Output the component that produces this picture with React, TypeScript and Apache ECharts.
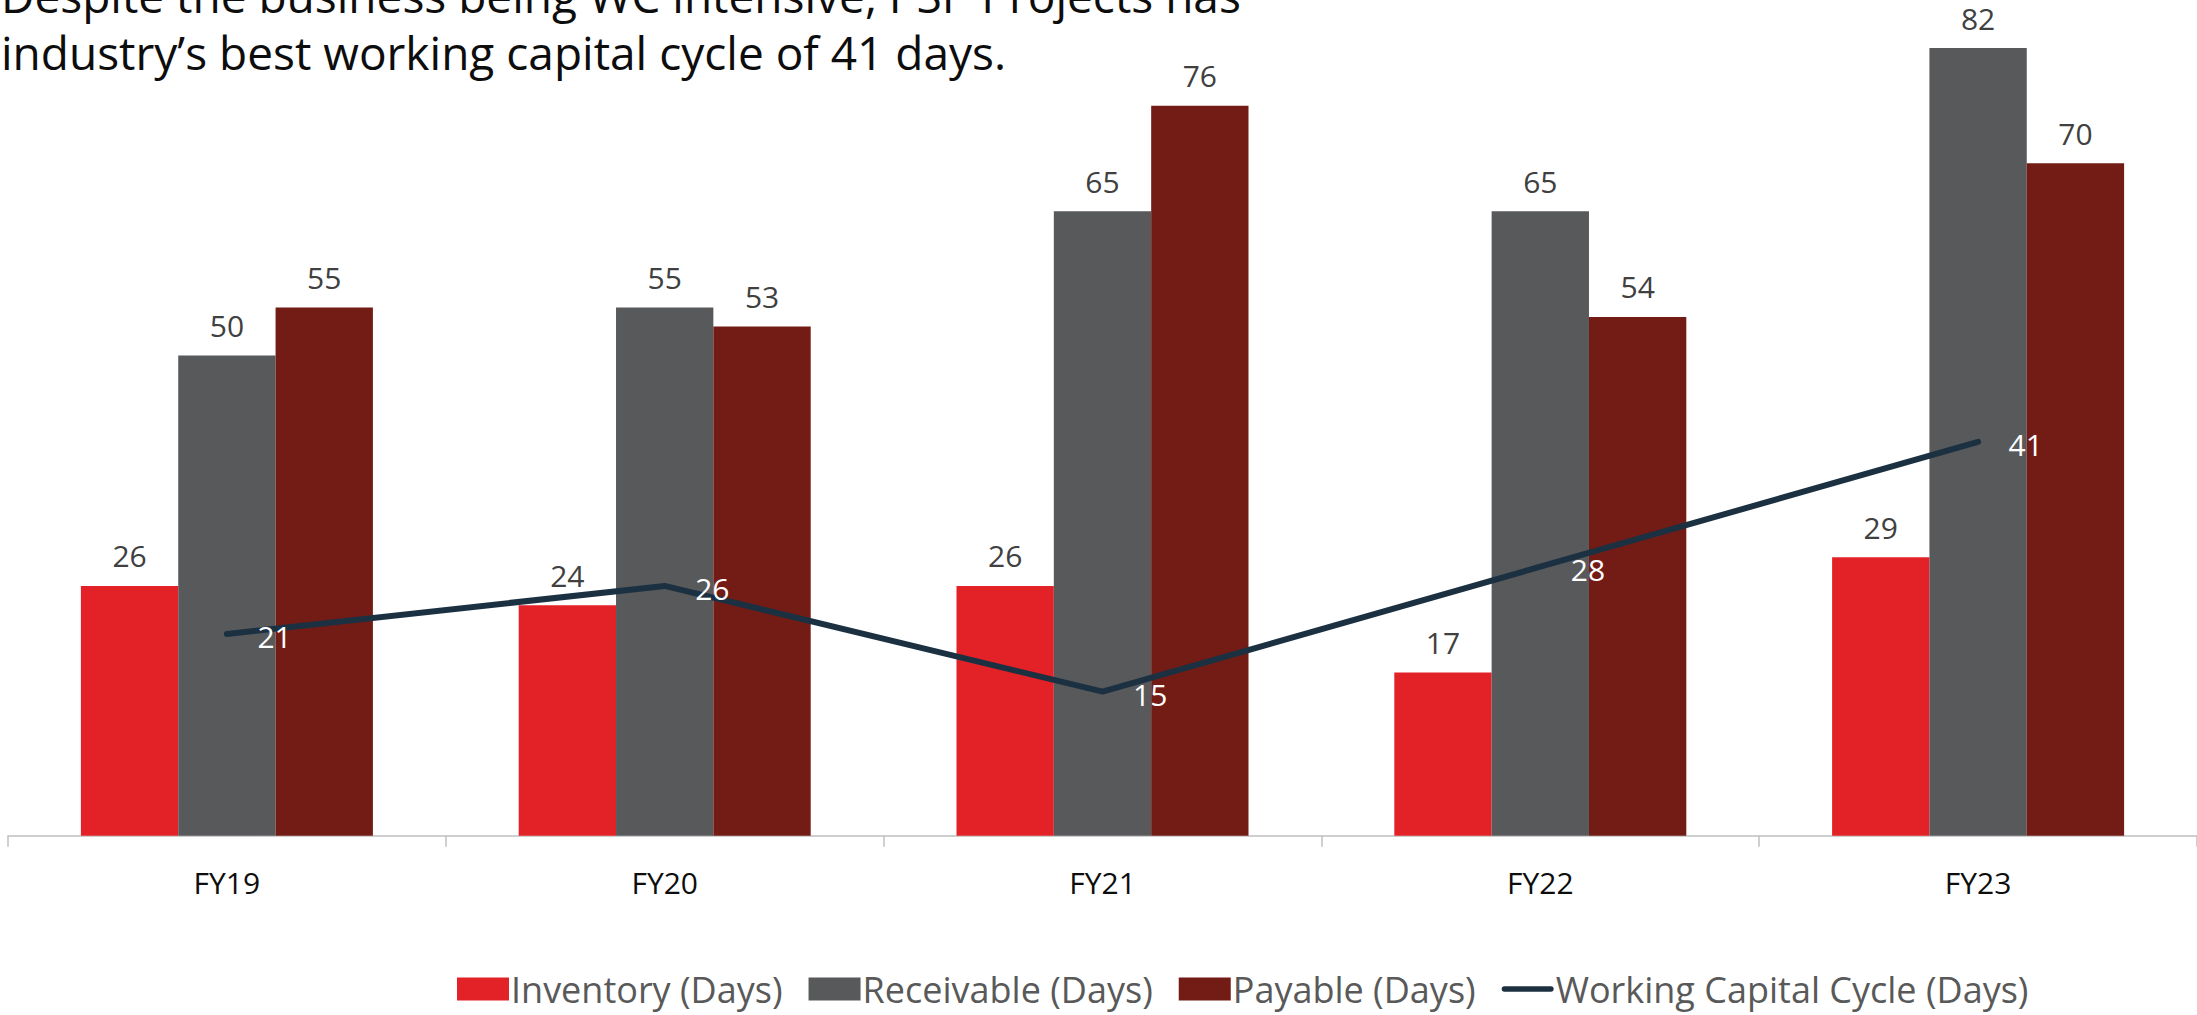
import React, { useEffect, useRef } from "react";
import * as echarts from "echarts";

const categories = ["FY19", "FY20", "FY21", "FY22", "FY23"];
const inventoryDays = [26, 24, 26, 17, 29];
const receivableDays = [50, 55, 65, 65, 82];
const payableDays = [55, 53, 76, 54, 70];
const wccDays = [21, 26, 15, 28, 41];
const seriesNames = [
  "Inventory (Days)",
  "Receivable (Days)",
  "Payable (Days)",
  "Working Capital Cycle (Days)",
];
const titleLines = [
  "Despite the business being WC intensive, PSP Projects has",
  "industry\u2019s best working capital cycle of 41 days.",
];

const FONT = '"Open Sans", "Noto Sans", sans-serif';
const COLORS = ["#E32228", "#58595B", "#731C15", "#1B3142"];

export default function App() {
  const ref = useRef<HTMLDivElement>(null);
  useEffect(() => {
    if (!ref.current) return;
    const chart = echarts.init(ref.current, undefined, { renderer: "svg" });
    const barLabel = {
      show: true,
      position: "top",
      distance: 15,
      color: "#404040",
      fontSize: 30,
      fontFamily: FONT,
    };
    const barSeries = [inventoryDays, receivableDays, payableDays].map((d, i) => ({
      name: seriesNames[i],
      type: "bar",
      data: d,
      barGap: "0%",
      barCategoryGap: "33.3%",
      itemStyle: { color: COLORS[i] },
      label: barLabel,
    }));
    chart.setOption({
      animation: false,
      textStyle: { fontFamily: FONT },
      grid: { left: 8, right: 0, top: 0, bottom: 179.3, containLabel: false },
      graphic: titleLines.map((t, i) => ({
        type: "text",
        x: 1,
        y: -5 + i * 57,
        z: 100,
        style: {
          text: t,
          fontSize: 46,
          fontFamily: FONT,
          fill: "#0d0d0d",
          verticalAlign: "middle",
          align: "left",
        },
      })),
      legend: {
        left: 452,
        top: 966,
        itemWidth: 52,
        itemHeight: 23,
        itemGap: 26,
        textStyle: { color: "#595959", fontSize: 36, fontFamily: FONT, padding: [0, 0, 0, -3] },
        data: [
          { name: seriesNames[0], icon: "rect" },
          { name: seriesNames[1], icon: "rect" },
          { name: seriesNames[2], icon: "rect" },
          {
            name: seriesNames[3],
            icon: "path://M3,0 L53,0 A3,3 0 0 1 53,6 L3,6 A3,3 0 0 1 3,0 Z",
            itemStyle: { color: COLORS[3] },
          },
        ],
      },
      xAxis: {
        type: "category",
        data: categories,
        axisLine: { lineStyle: { color: "#BFBFBF", width: 1.5 } },
        axisTick: { show: true, length: 11, lineStyle: { color: "#BFBFBF", width: 1.5 } },
        axisLabel: { color: "#0d0d0d", fontSize: 30, fontFamily: FONT, margin: 32 },
      },
      yAxis: {
        type: "value",
        min: 0,
        max: 87,
        show: false,
        splitLine: { show: false },
      },
      series: [
        ...barSeries,
        {
          name: seriesNames[3],
          type: "line",
          data: wccDays,
          z: 5,
          symbol: "circle",
          symbolSize: 1,
          showSymbol: true,
          color: COLORS[3],
          itemStyle: { color: COLORS[3] },
          lineStyle: { color: COLORS[3], width: 6, cap: "round", join: "round" },
          label: {
            show: true,
            position: "right",
            distance: 30,
            offset: [0, 3],
            color: "#ffffff",
            fontSize: 30,
            fontFamily: FONT,
          },
        },
      ],
    });
    return () => chart.dispose();
  }, []);
  return (
    <div
      ref={ref}
      style={{ position: "absolute", left: 0, top: 0, width: 2197, height: 1015, background: "#fff" }}
    />
  );
}
